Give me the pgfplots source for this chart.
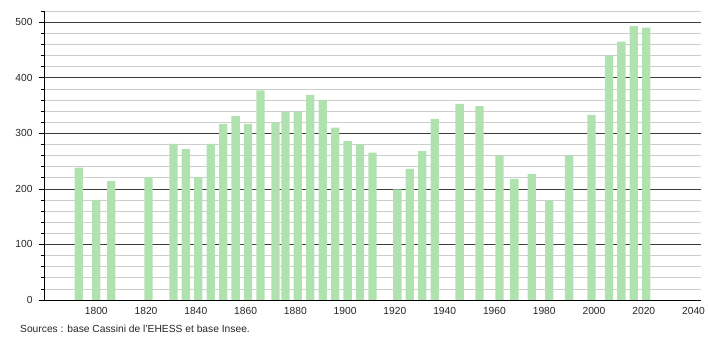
\documentclass[border=0pt]{standalone}
\usepackage{pgfplots}
\pgfplotsset{compat=1.18}
\usepackage{fontspec}
\setmainfont{Liberation Sans}
\definecolor{barg}{RGB}{176,226,176}
\definecolor{majg}{RGB}{60,60,60}
\definecolor{ming}{RGB}{205,205,205}
\begin{document}
\begin{tikzpicture}
\path[use as bounding box] (0,0) rectangle (710bp,340bp);
\begin{axis}[
  at={(44bp,40bp)}, anchor=south west,
  scale only axis, width=657bp, height=289bp,
  xmin=1779, xmax=2043, ymin=0, ymax=520,
  axis x line=bottom, axis y line=left,
  axis line style={-, black, line width=0.8pt},
  xtick={1800,1820,...,2040},
  ytick={0,100,...,500},
  minor ytick={0,20,...,520},
  ymajorgrids, yminorgrids,
  major grid style={majg, line width=0.6pt},
  minor grid style={ming, line width=0.6pt},
  xtick style={draw=none},
  ytick style={black, line width=0.6pt},
  tick align=outside,
  major tick length=5bp, minor tick length=2.5bp,
  /pgf/number format/1000 sep={},
  /pgf/number format/assume math mode=true,
  tick label style={font=\fontsize{10.3}{12}\selectfont, text=black!85},
  xticklabel style={yshift=1bp},
  yticklabel style={xshift=-3bp},
  clip=false,
]
\addplot[ybar, bar width=8.3bp, fill=barg, draw=none] coordinates {
(1793,238) (1800,180) (1806,214) (1821,221) (1831,281) (1836,272)
(1841,221) (1846,281) (1851,317) (1856,331) (1861,317) (1866,377)
(1872,319) (1876,339) (1881,339) (1886,369) (1891,360) (1896,310)
(1901,286) (1906,280) (1911,265) (1921,199) (1926,236) (1931,268)
(1936,326) (1946,353) (1954,349) (1962,260) (1968,218) (1975,227)
(1982,179) (1990,260) (1999,333) (2006,440) (2011,465) (2016,493)
(2021,490)
};
\end{axis}
\node[anchor=west, inner sep=0pt, font=\fontsize{10.3}{12}\selectfont, text=black!85] at (20bp,11bp) {Sources : base Cassini de l'EHESS et base Insee.};
\end{tikzpicture}
\end{document}
